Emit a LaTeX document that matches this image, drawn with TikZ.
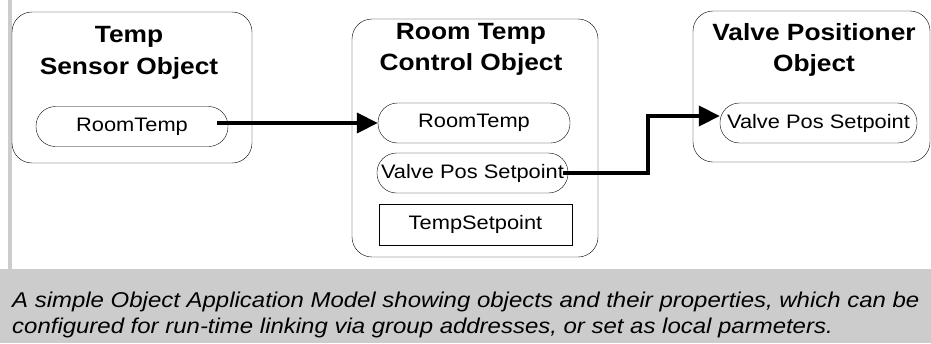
\documentclass[tikz,border=0pt]{standalone}
\usepackage{fontspec}
\setmainfont[FakeStretch=1.12]{Liberation Sans}
\usepackage{tikz}
\usetikzlibrary{arrows.meta}
\definecolor{bandgray}{RGB}{204,204,204}

\begin{document}
\begin{tikzpicture}[x=1pt,y=-1pt,
	obj/.style={draw,rounded corners=20pt,minimum width=#1,inner sep=0pt},
	title/.style={align=center,font=\fontsize{23.5}{31.5}\selectfont\bfseries},
	prop/.style={draw,rounded corners=19.5pt,minimum width=#1,minimum height=40pt,inner sep=0pt,font=\fontsize{19.5}{22}\selectfont},
	link/.style={line width=4pt,-{Triangle[length=21pt,width=20pt]}},
	]
	\useasboundingbox (0,0) rectangle (931,343);
	%caption band
	\fill[bandgray] (0,269) rectangle (931,343);
	\fill[bandgray] (8,0) rectangle (12,269);
	\node[anchor=base west,inner sep=0pt,font=\fontsize{21.4}{26}\selectfont\itshape] (cap1) at (12,307) {A simple Object Application Model showing objects and their properties, which can be};
	\node[anchor=base west,inner sep=0pt,font=\fontsize{21.4}{26}\selectfont\itshape] (cap2) at (12,333) {configured for run-time linking via group addresses, or set as local parmeters.};
	%objects
	\node[obj=240pt,minimum height=151pt] (s) at (132,87.5) {};
	\node[obj=246pt,minimum height=238pt] (c) at (475,138) {};
	\node[obj=237pt,minimum height=151pt] (v) at (811.5,86.5) {};
	\node[title] (st) at (129,53) {Temp\\Sensor Object};
	\node[title] (ct) at (471,49.5) {Room Temp\\Control Object};
	\node[title] (vt) at (814,50) {Valve Positioner\\Object};
	%properties
	\node[prop=192pt] (sr) at (132,126.5) {RoomTemp};
	\node[prop=192pt] (cr) at (474,123) {RoomTemp};
	\node[prop=191pt] (cv) at (472.5,173) {Valve Pos Setpoint};
	\node[draw,minimum width=193pt,minimum height=41pt,inner sep=0pt,font=\fontsize{19.5}{22}\selectfont] (cs) at (475.5,224.5) {TempSetpoint};
	\node[prop=197pt] (vv) at (818.5,123) {Valve Pos Setpoint};
	%links
	\coordinate (a) at ([xshift=-11pt]sr.east);
	\coordinate (b) at ([xshift=-5pt]cv.east);
	\draw[link] (a |- cr.west) -- (cr.west);
	\draw[link] (b) -| (648,116) -- (vv.west |- 0,116);
\end{tikzpicture}
\end{document}
